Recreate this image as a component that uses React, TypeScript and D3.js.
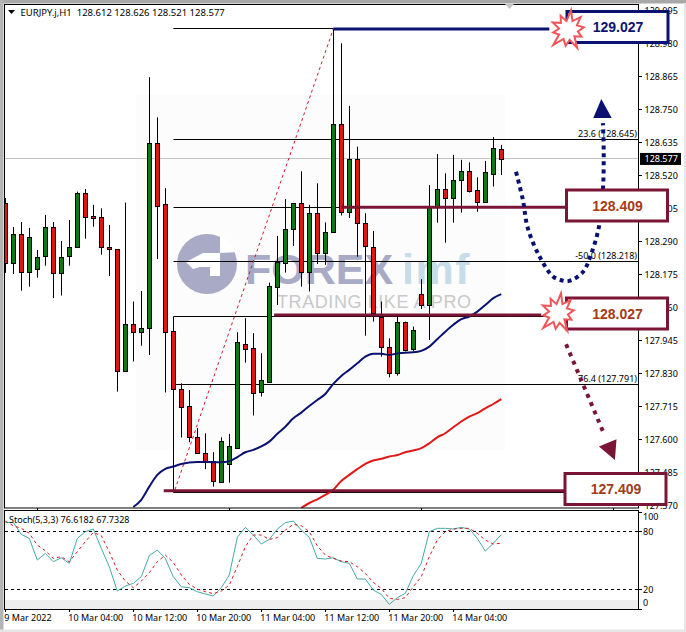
import React from "react";
import * as d3 from "d3";

// OHLC values, one list per field
const opens = [128.424,128.216,128.315,128.184,128.193,128.239,128.339,128.179,128.239,128.271,128.458,128.377,128.374,128.269,128.262,127.839,128.001,127.975,127.987,128.632,128.419,127.978,127.775,127.716,127.607,127.552,127.526,127.451,127.513,127.569,127.933,127.917,127.766,127.801,128.132,128.216,128.332,128.423,128.184,128.388,128.248,128.324,128.699,128.393,128.576,128.353,128.271,128.027,127.921,127.830,128.008,127.914,128.106,128.068,128.411,128.471,128.440,128.503,128.534,128.468,128.428,128.524,128.612];
const highs = [128.441,128.340,128.357,128.337,128.260,128.382,128.357,128.291,128.364,128.463,128.472,128.417,128.405,128.347,128.262,128.425,128.080,128.117,128.862,128.722,128.475,127.978,127.795,127.772,127.639,127.621,127.555,127.607,127.619,127.973,128.022,127.970,127.900,128.146,128.309,128.437,128.423,128.534,128.417,128.492,128.356,129.029,128.980,128.762,128.620,128.388,128.326,128.080,127.952,128.027,128.010,127.993,128.158,128.486,128.594,128.527,128.591,128.574,128.565,128.513,128.570,128.653,128.626];
const lows = [128.180,128.176,128.118,128.132,128.163,128.205,128.092,128.101,128.205,128.268,128.299,128.341,128.243,128.169,127.766,127.839,127.871,127.926,127.894,128.228,127.763,127.775,127.606,127.590,127.551,127.496,127.435,127.451,127.449,127.569,127.867,127.683,127.749,127.801,128.068,128.181,128.274,128.132,128.115,128.211,128.208,128.324,128.380,128.371,128.236,127.961,128.010,127.888,127.816,127.822,127.906,127.906,128.054,127.946,128.355,128.285,128.355,128.390,128.460,128.393,128.428,128.481,128.521];
const closes = [128.216,128.315,128.184,128.304,128.237,128.339,128.179,128.234,128.269,128.460,128.376,128.371,128.269,128.262,127.839,128.001,127.975,127.987,128.632,128.414,127.975,127.775,127.714,127.609,127.552,127.526,127.453,127.595,127.575,127.938,127.914,127.763,127.805,128.134,128.217,128.332,128.423,128.184,128.388,128.248,128.324,128.699,128.393,128.576,128.353,128.275,128.039,127.920,127.830,128.008,127.911,127.980,128.068,128.409,128.471,128.440,128.503,128.534,128.467,128.428,128.531,128.614,128.577];

// Moving averages, starting at the candle given by their offset
const blueMaStart = 16;
const blueMa = [127.364,127.389,127.435,127.476,127.497,127.505,127.514,127.519,127.521,127.521,127.520,127.520,127.524,127.538,127.555,127.563,127.575,127.592,127.619,127.644,127.673,127.693,127.716,127.737,127.758,127.793,127.821,127.842,127.865,127.888,127.898,127.898,127.894,127.899,127.902,127.903,127.908,127.923,127.949,127.975,127.999,128.019,128.028,128.045,128.068,128.092,128.106];
const redMaStart = 37;
const redMa = [127.361,127.378,127.391,127.406,127.424,127.455,127.476,127.496,127.514,127.526,127.532,127.540,127.545,127.555,127.561,127.569,127.586,127.607,127.621,127.642,127.662,127.679,127.691,127.708,127.723,127.740];

// Stochastic oscillator
const stochMain = [89.3,89.3,76.9,72.7,50.3,57.2,48.6,52.7,46.9,72.7,79.6,82.4,62.4,43.4,18.3,23.4,26.2,33.1,54.8,60.7,52.0,33.1,22.7,21.7,17.6,15.2,13.1,21.7,34.8,73.8,84.1,76.2,66.9,71.7,82.4,88.9,90.7,81.3,73.8,52.0,51.4,52.7,48.6,46.9,30.7,30.7,19.3,14.8,4.5,11.4,15.9,34.1,46.9,79.6,83.1,83.1,82.4,84.1,82.4,72.7,59.6,67.6,76.6];
const stochSignal = [90.7,85.8,83.1,77.9,65.8,60.0,52.0,53.8,48.6,58.9,69.3,78.9,75.5,58.9,40.0,28.6,21.7,28.6,37.2,48.6,55.5,47.9,34.8,25.2,20.3,17.6,15.5,18.3,24.5,43.4,64.1,76.2,76.2,71.7,73.4,81.3,87.2,85.8,79.6,65.1,55.5,52.0,49.3,48.6,43.4,36.5,27.2,21.0,10.7,9.6,11.4,22.7,33.1,53.8,71.0,79.6,82.4,83.1,83.1,77.9,71.0,66.9,67.7];
const stochLevels = [80, 20];
const stochTicks = ["100", "80", "20", "0"];

// Axes
const priceTicks = [129.095,128.98,128.865,128.75,128.635,128.52,128.405,128.29,128.175,128.06,127.945,127.83,127.715,127.6,127.485,127.37];
const timeTickBars = [0,8,16,24,32,40,48,56];
const timeTickLabels = ["9 Mar 2022","10 Mar 04:00","10 Mar 12:00","10 Mar 20:00","11 Mar 04:00","11 Mar 12:00","11 Mar 20:00","14 Mar 04:00"];
const mainTickBars = [4,28,52,76];

// Fibonacci and annotated levels
const fiboTop = 129.03;
const fiboBottom = 127.413;
const fiboLevels = [128.645, 128.409, 128.218, 128.027, 127.791];
const fiboLabels = ["23.6 (128.645)", "", "-50.0 (128.218)", "", "76.4 (127.791)"];
const fiboStartBar = 21;
const trendLine = [[21.2,127.424],[41,129.03]];

const levelLinePrices = [129.03, 128.409, 128.033, 127.421];
const levelLabels = ["129.027", "128.409", "128.027", "127.409"];
const levelStartBars = [41, 42, 33.6, 19.8];
const levelEndBars = [68, 70, 67, 70];

// Forecast paths, in bars and prices
const bluePath = [[63.84,128.532],[64.7,128.434],[65.3,128.337],[66.8,128.236],[68.4,128.169],[69.4,128.155],[70.5,128.152],[72.2,128.183],[73.2,128.243],[74.2,128.34],[74.7,128.469],[74.8,128.608],[74.7,128.702]];
const blueHead = [[74.5,128.786],[73.5,128.72],[75.8,128.72]];
const redPath = [[70.1,127.931],[74.9,127.615]];
const redHead = [[76.2,127.528],[74.2,127.575],[76.4,127.6]];

const burstRadii = [20,10,18,10,16,10,15,9,20,10,16,10,21,10,15,9,17,10,16,9];

const lastPrice = 128.577;
const NAVY = "#0b1170";
const MAROON = "#7b1535";
const BROWN = "#a23c18";
const AXIS_FONT = "'Noto Sans', Arial, sans-serif";
const BOX_FONT = "'Liberation Sans', Arial, sans-serif";
const FS = 9;

const x = d3.scaleLinear().domain([0, 62]).range([5.3, 501.3]);
const y = d3.scaleLinear().domain([128.865, 127.37]).range([76.3, 505.3]);
const ys = d3.scaleLinear().domain([0, 100]).range([608.7, 512]);

const crisp = (v: number) => Math.round(v) + 0.5;
const low = (v: number) => Math.floor(v) + 0.5;
const pts = (a: number[][]) => a.map(([b, p]) => `${x(b)},${y(p)}`).join(" ");

function Burst({ cx, cy }: { cx: number; cy: number }) {
  const d = d3.lineRadial<number>()
    .angle((_, i) => (i / burstRadii.length) * Math.PI * 2 + 0.15)
    .radius((r) => r)
    .curve(d3.curveLinearClosed)(burstRadii) as string;
  return <path d={d} transform={`translate(${cx},${cy})`} fill="#fff" stroke="#f0555a" strokeWidth={2} strokeLinejoin="miter" />;
}

export default function App() {
  const blueLine = d3.line<number>().x((_, i) => x(i + blueMaStart)).y((v) => y(v)).curve(d3.curveMonotoneX)(blueMa) as string;
  const redLine = d3.line<number>().x((_, i) => x(i + redMaStart)).y((v) => y(v)).curve(d3.curveMonotoneX)(redMa) as string;
  const stochM = d3.line<number>().x((_, i) => x(i)).y((v) => ys(v))(stochMain) as string;
  const stochS = d3.line<number>().x((_, i) => x(i)).y((v) => ys(v))(stochSignal) as string;
  const dotted = d3.line<number[]>().x((d) => x(d[0])).y((d) => y(d[1])).curve(d3.curveCatmullRom);

  const boxX = [567, 566.5, 566.5, 565];
  const boxColors = [NAVY, MAROON, MAROON, MAROON];
  const boxH = 31;

  return (
    <svg width={686} height={632} style={{ position: "absolute", left: 0, top: 0, background: "#fff" }}>
      <defs>
        <clipPath id="mainClip"><rect x={5} y={5} width={633} height={503} /></clipPath>
        <clipPath id="subClip"><rect x={5} y={511} width={633} height={98} /></clipPath>
      </defs>

      {/* window chrome */}
      <rect x={0} y={0} width={686} height={632} fill="#fff" />
      <rect x={0} y={0} width={686} height={3.5} fill="#a8a8a8" />
      <rect x={0} y={0} width={3.5} height={632} fill="#b4b4b4" />
      <rect x={684} y={3} width={2} height={629} fill="#e6e6e6" />
      <rect x={0} y={629.5} width={686} height={2.5} fill="#e6e6e6" />

      {/* watermark */}
      <rect x={136} y={95} width={369} height={355} fill="#fcfcfc" />
      <rect x={5} y={600} width={633} height={9} fill="#eeeeee" />
      <circle cx={207} cy={264} r={30} fill="#a9abc6" />
      <polygon points="186,262 203,253 220,253 220,276 210,276 210,267 200,267 193,269" fill="#fff" />
      <polygon points="220,234 238,252 220,253" fill="#fff" />
      <text x={245} y={284} fontFamily={BOX_FONT} fontWeight={700} fontSize={43} fill="#a9abc6">FOREX</text>
      <text x={402} y={284} fontFamily={BOX_FONT} fontWeight={700} fontSize={43} letterSpacing={1.5} fill="#c6dde9">imf</text>
      <text x={277} y={308} fontFamily={BOX_FONT} fontSize={18} textLength={194} lengthAdjust="spacing" fill="#c9c9c9">TRADING LIKE A PRO</text>

      {/* current price */}
      <line x1={5} x2={638} y1={low(y(lastPrice))} y2={low(y(lastPrice))} stroke="#c2c2c2" />

      <g clipPath="url(#mainClip)">
        {/* fibonacci */}
        <line x1={x(fiboStartBar)} x2={x(41)} y1={low(y(fiboTop))} y2={low(y(fiboTop))} stroke="#000" />
        {fiboLevels.map((p) => (
          <line key={p} x1={crisp(x(fiboStartBar))} x2={638} y1={low(y(p))} y2={low(y(p))} stroke="#000" />
        ))}
        <line x1={crisp(x(fiboStartBar))} x2={638} y1={low(y(fiboBottom))} y2={low(y(fiboBottom))} stroke="#000" />
        <line x1={crisp(x(fiboStartBar))} x2={crisp(x(fiboStartBar))} y1={low(y(128.027))} y2={low(y(fiboBottom))} stroke="#000" />
        <polyline points={pts(trendLine)} fill="none" stroke="#cf1c2c" strokeWidth={1} strokeDasharray="3 3" />

        {/* candles */}
        {opens.map((o, i) => {
          const cx = Math.floor(x(i)) + 0.5;
          const up = closes[i] >= o;
          const top = crisp(y(Math.max(o, closes[i])));
          const bot = crisp(y(Math.min(o, closes[i])));
          return (
            <g key={i}>
              <line x1={cx} x2={cx} y1={y(highs[i])} y2={y(lows[i])} stroke="#000" />
              <rect x={cx - 2} y={top} width={4} height={Math.max(bot - top, 1)} fill={up ? "#0b7a10" : "#e31414"} stroke="#000" />
            </g>
          );
        })}

        {/* moving averages */}
        <path d={blueLine} fill="none" stroke={NAVY} strokeWidth={2} />
        <path d={redLine} fill="none" stroke="#e01818" strokeWidth={2} />
      </g>

      {/* level lines */}
      {levelLinePrices.map((p, i) => (
        <line key={p} x1={x(levelStartBars[i])} x2={x(levelEndBars[i])} y1={y(p)} y2={y(p)} stroke={i === 0 ? NAVY : MAROON} strokeWidth={3} />
      ))}

      {/* frames */}
      <rect x={4.5} y={4.5} width={634} height={503.5} fill="none" stroke="#000" />
      <rect x={4.5} y={510.5} width={634} height={99} fill="none" stroke="#000" />
      {mainTickBars.map((b) => (
        <line key={b} x1={crisp(x(b))} x2={crisp(x(b))} y1={508} y2={511} stroke="#000" />
      ))}

      {/* price axis */}
      {priceTicks.map((p) => (
        <g key={p}>
          <line x1={638} x2={642} y1={crisp(y(p))} y2={crisp(y(p))} stroke="#000" />
          <text x={644.5} y={y(p) + 3.2} fontFamily={AXIS_FONT} fontSize={FS} fill="#000">{p.toFixed(3)}</text>
        </g>
      ))}
      <rect x={640} y={y(lastPrice) - 6} width={41} height={12} fill="#000" />
      <text x={644.5} y={y(lastPrice) + 3.2} fontFamily={AXIS_FONT} fontSize={FS} fill="#fff">{lastPrice.toFixed(3)}</text>

      {/* fibonacci labels */}
      {fiboLevels.map((p, i) => fiboLabels[i] && (
        <text key={p} x={637} y={y(p) - 2.5} textAnchor="end" fontFamily={AXIS_FONT} fontSize={FS} fill="#000">{fiboLabels[i]}</text>
      ))}

      {/* legend */}
      <polygon points="8,10 15,10 11.5,14" fill="#000" />
      <text x={20.5} y={16} fontFamily={AXIS_FONT} fontSize={9.5} fill="#000" xmlSpace="preserve">EURJPY.j,H1  128.612 128.626 128.521 128.577</text>

      {/* stochastic */}
      <g clipPath="url(#subClip)">
        {stochLevels.map((l) => (
          <line key={l} x1={5} x2={638} y1={crisp(ys(l))} y2={crisp(ys(l))} stroke="#000" strokeDasharray="3 3" />
        ))}
        <path d={stochM} fill="none" stroke="#45aaa8" strokeWidth={1} />
        <path d={stochS} fill="none" stroke="#cc1c1c" strokeWidth={1} strokeDasharray="3 3" />
      </g>
      <text x={9} y={523} fontFamily={AXIS_FONT} fontSize={FS} fill="#000">Stoch(5,3,3) 76.6182 67.7328</text>
      {stochTicks.map((t) => {
        const v = +t;
        const yy = v === 100 ? 517 : v === 0 ? 602.5 : ys(v);
        return (
          <g key={t}>
            <line x1={638} x2={642} y1={crisp(ys(v))} y2={crisp(ys(v))} stroke="#000" />
            <text x={643} y={yy + 3.2} fontFamily={AXIS_FONT} fontSize={FS} fill="#000">{t}</text>
          </g>
        );
      })}

      {/* time axis */}
      {timeTickBars.map((b, i) => (
        <g key={b}>
          <line x1={crisp(x(b))} x2={crisp(x(b))} y1={609} y2={612} stroke="#000" />
          <text x={x(b) - 1} y={621} fontFamily={AXIS_FONT} fontSize={FS} fill="#000">{timeTickLabels[i]}</text>
        </g>
      ))}

      {/* forecast arrows */}
      <path d={dotted(bluePath) as string} fill="none" stroke={NAVY} strokeWidth={4} strokeDasharray="4 4" />
      <polygon points={pts(blueHead)} fill={NAVY} />
      <polyline points={pts(redPath)} fill="none" stroke={MAROON} strokeWidth={4} strokeDasharray="4 5" />
      <polygon points={pts(redHead)} fill={MAROON} />

      {/* level boxes */}
      {levelLinePrices.map((p, i) => {
        const cy = i === 0 ? 27 : i === 1 ? 205.5 : i === 2 ? 313.5 : 489;
        return (
          <g key={p}>
            <rect x={boxX[i]} y={cy - boxH / 2} width={101} height={boxH} fill="#fff" stroke={boxColors[i]} strokeWidth={3} />
            <text x={boxX[i] + 51} y={cy + 5} textAnchor="middle" fontFamily={BOX_FONT} fontWeight={700} fontSize={14} fill={i === 0 ? NAVY : BROWN}>{levelLabels[i]}</text>
          </g>
        );
      })}
      <Burst cx={568} cy={30} />
      <Burst cx={558} cy={313} />

      <polygon points="505,4 514,4 509.5,9" fill="#c4c4c4" />
    </svg>
  );
}
